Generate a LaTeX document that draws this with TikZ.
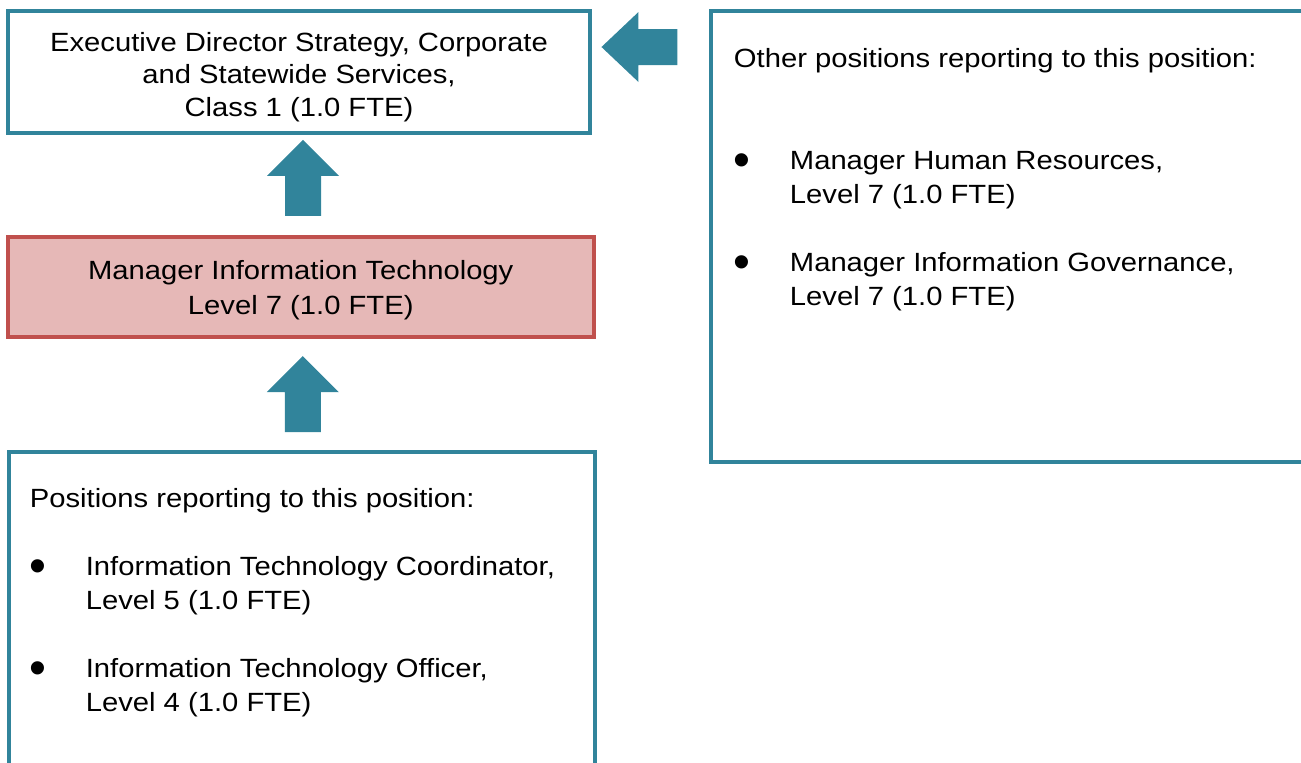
\documentclass[tikz,border=0pt]{standalone}
\usepackage{fontspec}
\usepackage{graphicx}
\setmainfont[FakeStretch=1.108]{Liberation Sans}
\definecolor{posteal}{HTML}{31849B}
\definecolor{posred}{HTML}{C0504D}
\definecolor{posfill}{HTML}{E6B8B7}
\newcommand{\bul}{\makebox[1.12cm][l]{\raisebox{-4.1pt}{\scalebox{1.65}[1.85]{\textbullet}}}}
\newcommand{\ind}{\hspace*{1.12cm}}
\begin{document}
\begin{tikzpicture}[x=0.02cm,y=-0.02cm,
  every node/.style={font=\fontsize{15}{19}\selectfont},
  posbox/.style={draw=posteal,line width=2.3pt,inner sep=0pt},
  listtext/.style={anchor=north west,inner sep=0pt,align=left,font=\fontsize{15}{19.4}\selectfont}]
\clip (0,0) rectangle (1301,762);
% reporting line: director above, this position, then its own staff
\node[posbox,minimum width=11.66cm,minimum height=2.43cm,align=center,text height=1.78cm,text depth=0pt,font=\fontsize{15}{18.5}\selectfont] (exec) at (299,72) {Executive Director Strategy, Corporate\\and Statewide Services,\\Class 1 (1.0 FTE)};
\node[posbox,draw=posred,fill=posfill,minimum width=11.73cm,minimum height=2.0cm,align=center,text height=1.08cm,text depth=0pt,font=\fontsize{15}{19.7}\selectfont] (mgr) at (300.75,287) {Manager Information Technology\\Level 7 (1.0 FTE)};
\node[posbox,minimum width=11.71cm,minimum height=6.97cm] (staff) at (302,625.75) {};
\node[posbox,minimum width=12.38cm,minimum height=9.02cm] (peers) at (1020.5,236.9) {};
% list of positions in each box
\node[listtext] (stafflist) at (29.5,482.8) {\strut Positions reporting to this position:\\[19.4pt]
\bul Information Technology Coordinator,\\
\ind Level 5 (1.0 FTE)\\[19.4pt]
\bul Information Technology Officer,\\
\ind Level 4 (1.0 FTE)};
\node[listtext] (peerlist) at (733.6,42.8) {\strut Other positions reporting to this position:\\[38.8pt]
\bul Manager Human Resources,\\
\ind Level 7 (1.0 FTE)\\[19.4pt]
\bul Manager Information Governance,\\
\ind Level 7 (1.0 FTE)};
% block arrows
\path (exec.south) ++(4,5) coordinate (upA);
\path (mgr.south) ++(2,17) coordinate (upB);
\path (exec.east) ++(9,-25) coordinate (leftA);
\fill[posteal] (upA) -- ++(36,36) -- ++(-18,0) -- ++(0,40) -- ++(-36,0) -- ++(0,-40) -- ++(-18,0) -- cycle;
\fill[posteal] (upB) -- ++(36,36) -- ++(-18,0) -- ++(0,40) -- ++(-36,0) -- ++(0,-40) -- ++(-18,0) -- cycle;
\fill[posteal] (leftA) -- ++(37,-35) -- ++(0,17) -- ++(39,0) -- ++(0,36) -- ++(-39,0) -- ++(0,17) -- cycle;
\end{tikzpicture}
\end{document}
